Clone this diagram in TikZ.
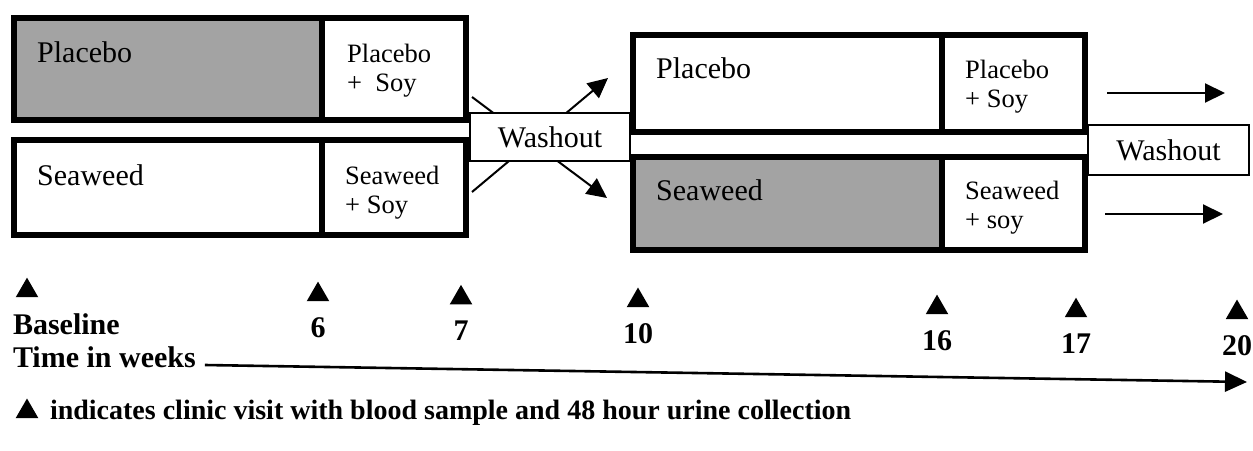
\documentclass[tikz,border=0pt]{standalone}
\usepackage{fontspec}
\setmainfont{Liberation Serif}
\usetikzlibrary{positioning,arrows.meta,shapes.geometric}
\definecolor{halftone}{gray}{0.64}

\begin{document}
\begin{tikzpicture}[
  x=1pt, y=-1pt,
  cell/.style={draw, line width=6pt, inner sep=0pt, outer sep=0pt},
  dimcell/.style={cell, fill=halftone},
  big/.style={font=\fontsize{30}{34}\selectfont, inner sep=0pt, anchor=base west},
  small/.style={font=\fontsize{26.5}{29}\selectfont, inner sep=0pt, align=left, anchor=north west},
  wash/.style={draw, line width=1.6pt, fill=white, font=\fontsize{30}{34}\selectfont,
               minimum width=160pt, minimum height=48pt, inner sep=0pt},
  arr/.style={-{Triangle[length=20pt,width=19pt]}, line width=2pt},
  tarr/.style={-{Triangle[length=22pt,width=20pt]}, line width=2.6pt},
  tick/.style={font=\bfseries\fontsize{30}{34}\selectfont, inner sep=0pt, outer sep=0pt},
  visit/.style={regular polygon, regular polygon sides=3, fill=black,
                inner sep=0pt, outer sep=0pt, minimum size=26pt},
]
\useasboundingbox (0,0) rectangle (1253,450);

\node[dimcell, minimum width=308pt, minimum height=102pt] (plc1) at (168,69) {};
\node[cell, minimum width=144pt, minimum height=102pt] (plcsoy1) at (394,69) {};
\node[cell, minimum width=308pt, minimum height=95pt] (sea1) at (168,187.5) {};
\node[cell, minimum width=144pt, minimum height=95pt] (seasoy1) at (394,187.5) {};

\node[cell, minimum width=309pt, minimum height=97pt] (plc2) at (787.5,83.5) {};
\node[cell, minimum width=143pt, minimum height=97pt] (plcsoy2) at (1013.5,83.5) {};
\node[dimcell, minimum width=309pt, minimum height=93pt] (sea2) at (787.5,203.5) {};
\node[cell, minimum width=143pt, minimum height=93pt] (seasoy2) at (1013.5,203.5) {};

\node[big] (plc1txt) at ([shift={(23,44)}]plc1.north west) {Placebo};
\node[big] (sea1txt) at ([shift={(23,45)}]sea1.north west) {Seaweed};
\node[big] (plc2txt) at ([shift={(23,43)}]plc2.north west) {Placebo};
\node[big] (sea2txt) at ([shift={(23,43)}]sea2.north west) {Seaweed};
\node[small] (plcsoy1txt) at ([shift={(25,26)}]plcsoy1.north west) {Placebo\\+~~Soy};
\node[small] (seasoy1txt) at ([shift={(23,26)}]seasoy1.north west) {Seaweed\\+ Soy};
\node[small] (plcsoy2txt) at ([shift={(23,25)}]plcsoy2.north west) {Placebo\\+ Soy};
\node[small] (seasoy2txt) at ([shift={(23,24)}]seasoy2.north west) {Seaweed\\+ soy};

\coordinate (xa1) at (472,97);
\coordinate (xa2) at (607,198);
\coordinate (xb1) at (472,192);
\coordinate (xb2) at (608,78);
\coordinate (ra1) at (1107,93);
\coordinate (ra2) at (1225,93);
\coordinate (rb1) at (1105,214);
\coordinate (rb2) at (1223,214);
\draw[arr] (xa1) -- (xa2);
\draw[arr] (xb1) -- (xb2);
\draw[arr] (ra1) -- (ra2);
\draw[arr] (rb1) -- (rb2);

\node[wash] (wash1) at (550,137) {Washout};
\node[wash, minimum width=161pt, minimum height=50pt] (wash2) at (1168.5,150) {Washout};

\node[tick, anchor=base west] (bl) at (13,334) {Baseline};
\node[tick, anchor=base] (w6) at (318,337) {6};
\node[tick, anchor=base] (w7) at (461,340) {7};
\node[tick, anchor=base] (w10) at (638,343) {10};
\node[tick, anchor=base] (w16) at (937,350) {16};
\node[tick, anchor=base] (w17) at (1076,353) {17};
\node[tick, anchor=base] (w20) at (1237,355) {20};
\node[visit, above=16pt of bl.north west, xshift=14pt] (v0) {};
\node[visit, above=16pt of w6] (v6) {};
\node[visit, above=16pt of w7] (v7) {};
\node[visit, above=16pt of w10] (v10) {};
\node[visit, above=16pt of w16] (v16) {};
\node[visit, above=16pt of w17] (v17) {};
\node[visit, above=16pt of w20] (v20) {};

\node[tick, anchor=base west] (tiw) at (13,367) {Time in weeks};
\coordinate (tend) at (1247,382);
\draw[tarr] ([xshift=9pt,yshift=2pt]tiw.base east) -- (tend);

\node[tick, font=\bfseries\fontsize{28}{32}\selectfont, anchor=base west] (legtxt) at (50,419)
  {indicates clinic visit with blood sample and 48 hour urine collection};
\node[visit, anchor=south] (legtri) at (27,418) {};
\end{tikzpicture}
\end{document}
